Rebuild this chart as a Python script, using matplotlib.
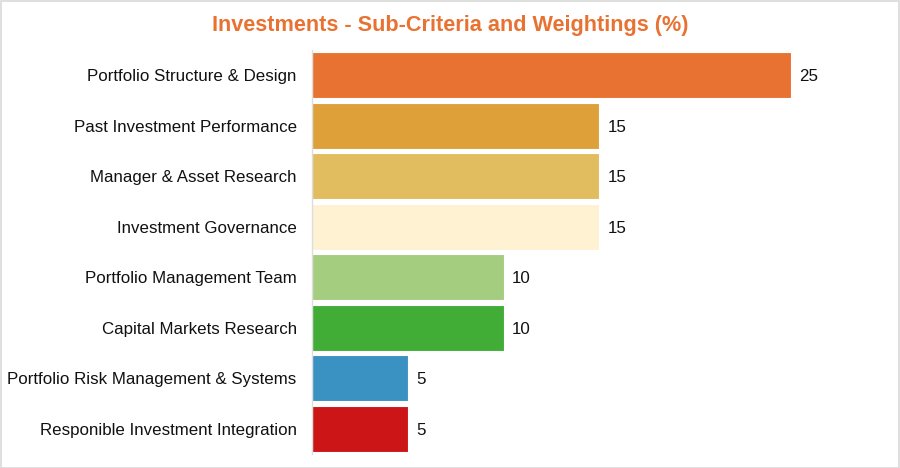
import matplotlib
matplotlib.use('Agg')
from matplotlib import pyplot as plt
from matplotlib.patches import Rectangle

plt.rcParams['font.family'] = ['Liberation Sans', 'DejaVu Sans']

categories = ['Portfolio Structure & Design', 'Past Investment Performance',
              'Manager & Asset Research', 'Investment Governance',
              'Portfolio Management Team', 'Capital Markets Research',
              'Portfolio Risk Management & Systems',
              'Responible Investment Integration']
weights = [25, 15, 15, 15, 10, 10, 5, 5]
colors = ['#E87232', '#DEA139', '#E2BD60', '#FEF2D2',
          '#A5CD80', '#41AD37', '#3A92C3', '#CC1517']

fig = plt.figure(figsize=(9, 4.68), dpi=100)
ax = fig.add_axes([312 / 900, 1 - 454 / 468, 576 / 900, 404 / 468])

y = list(range(len(categories)))
bars = ax.barh(y, weights, height=0.91, color=colors,
               edgecolor='#ffffff', linewidth=0.8)
for b, v in zip(bars, weights):
    ax.text(v + 0.42, b.get_y() + b.get_height() / 2, str(v),
            va='center_baseline', ha='left', fontsize=12.2, color='#111111')

ax.set_xlim(0, 576 / 19.15)
ax.set_ylim(len(categories) - 0.5, -0.5)
ax.set_yticks(y)
ax.set_yticklabels(categories, fontsize=12.2, color='#111111')
ax.tick_params(axis='y', length=0, pad=11)
ax.set_xticks([])
for s in ['top', 'right', 'bottom']:
    ax.spines[s].set_visible(False)
ax.spines['left'].set_color('#dddddd')
ax.spines['left'].set_linewidth(1)

fig.text(0.5, 1 - 23 / 468, 'Investments - Sub-Criteria and Weightings (%)',
         ha='center', va='center_baseline', fontsize=15.6, fontweight='bold',
         color='#E87232')

# thin grey frame round the picture
fig.patches.append(Rectangle((0.0006, 0.001), 0.9985, 0.997, transform=fig.transFigure,
                             fill=False, edgecolor='#d9d9d9', linewidth=1.2))

fig.savefig('out.png', dpi=100)
